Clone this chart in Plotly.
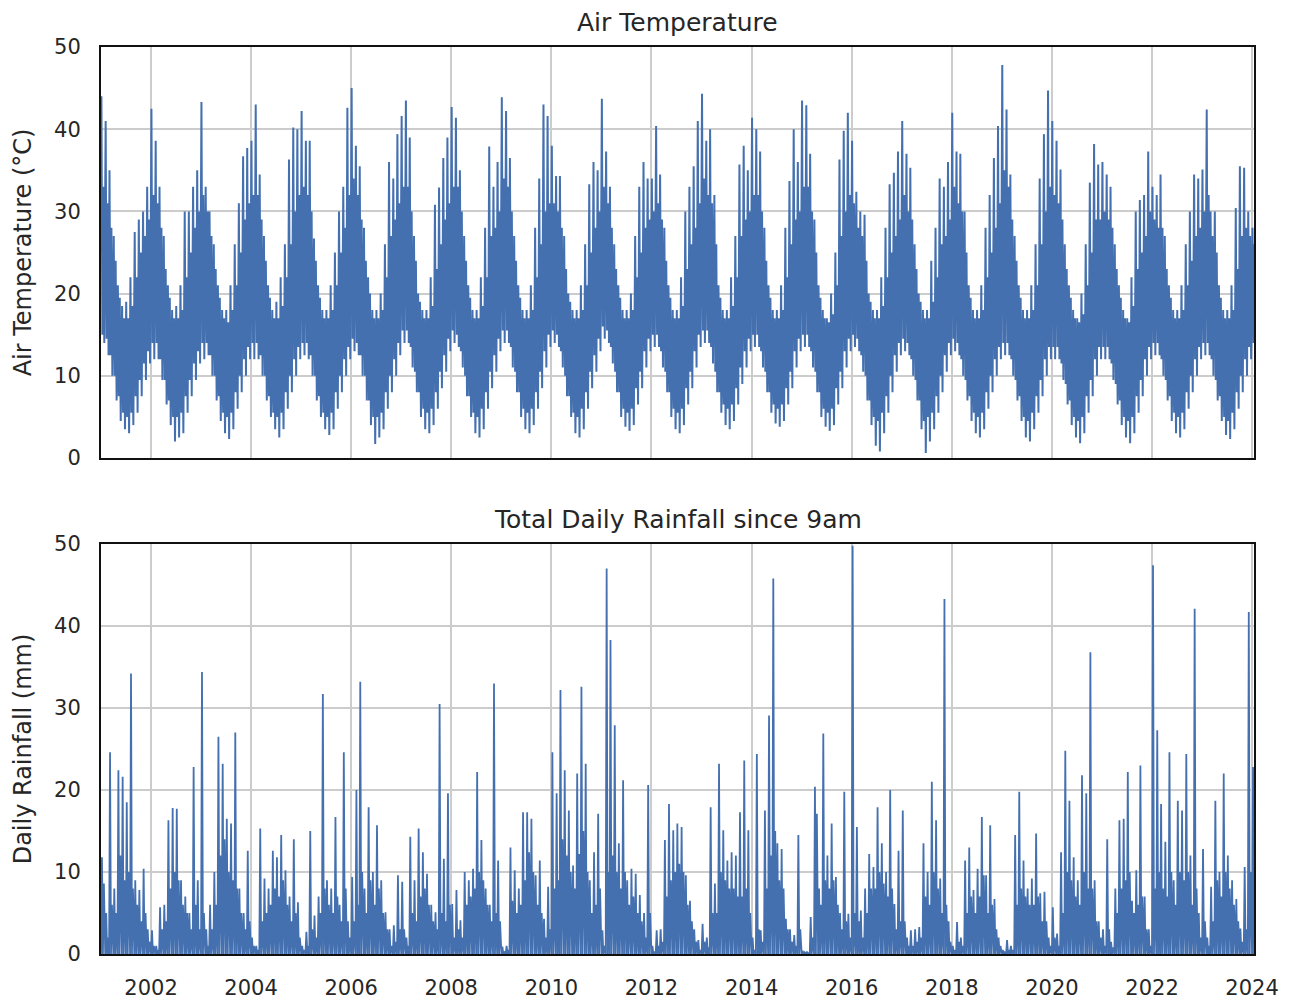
import pandas as pd
import plotly.graph_objects as go

# ---------------- data ----------------
# Monthly highest air temperature (deg C), Jan 2001 ... Jan 2024
temp_max_c = [
    44.0, 41.0, 35.0, 27.0, 21.0, 18.5, 19.0, 22.0, 27.5, 29.0, 30.0, 33.0,   # 2001
    42.5, 38.6, 33.0, 27.0, 21.0, 18.0, 18.5, 21.0, 30.0, 30.0, 33.0, 35.0,   # 2002
    43.3, 33.0, 30.0, 26.0, 21.0, 18.0, 18.0, 21.0, 26.0, 31.0, 36.7, 37.7,   # 2003
    38.6, 43.0, 34.5, 27.0, 21.0, 18.0, 19.0, 22.0, 26.0, 36.3, 40.2, 40.0,   # 2004
    42.2, 38.6, 38.6, 26.7, 21.0, 18.0, 18.0, 21.0, 25.0, 30.0, 33.0, 42.6,   # 2005
    45.0, 38.0, 35.5, 28.0, 22.0, 18.0, 18.0, 20.0, 26.0, 36.0, 34.0, 39.4,   # 2006
    41.6, 43.5, 39.0, 27.0, 20.0, 18.0, 18.0, 22.0, 30.8, 32.9, 36.5, 39.0,   # 2007
    42.7, 41.4, 35.0, 27.0, 21.0, 18.0, 18.0, 22.0, 28.0, 37.9, 33.0, 36.0,   # 2008
    43.9, 42.2, 36.5, 27.0, 21.0, 18.0, 18.0, 21.0, 28.0, 34.0, 43.0, 41.6,   # 2009
    38.0, 34.3, 34.3, 27.0, 20.0, 18.0, 18.0, 21.0, 26.0, 33.3, 36.0, 35.0,   # 2010
    43.7, 37.3, 33.0, 26.0, 21.0, 18.0, 18.0, 20.0, 27.0, 33.0, 36.0, 34.0,   # 2011
    34.0, 40.4, 34.5, 28.0, 21.0, 18.0, 18.0, 22.0, 30.0, 33.0, 35.5, 41.0,   # 2012
    44.3, 38.6, 40.0, 32.0, 21.0, 18.0, 18.0, 22.0, 27.0, 35.7, 38.0, 35.0,   # 2013
    41.4, 40.0, 37.3, 28.0, 21.0, 18.0, 18.0, 21.0, 28.0, 33.7, 40.0, 36.0,   # 2014
    43.5, 42.9, 37.0, 29.0, 21.0, 18.0, 17.0, 20.0, 25.0, 36.3, 39.8, 42.0,   # 2015
    38.6, 32.4, 30.0, 29.6, 20.0, 18.0, 18.0, 22.0, 28.0, 33.3, 34.7, 37.3,   # 2016
    41.0, 37.0, 35.3, 26.0, 20.0, 18.0, 18.0, 24.0, 28.0, 34.0, 33.0, 36.0,   # 2017
    42.0, 37.3, 37.0, 30.0, 21.0, 18.0, 18.0, 21.0, 28.0, 32.0, 36.5, 40.4,   # 2018
    47.8, 42.4, 34.5, 27.0, 21.0, 18.0, 18.0, 21.0, 26.0, 34.0, 39.4, 44.7,   # 2019
    41.0, 38.6, 35.1, 26.0, 21.0, 18.0, 17.0, 20.0, 26.0, 33.5, 38.2, 35.7,   # 2020
    36.0, 34.5, 33.0, 26.0, 21.0, 18.0, 17.0, 22.0, 30.0, 31.4, 32.0, 37.3,   # 2021
    33.0, 32.0, 34.5, 27.0, 21.0, 18.0, 18.0, 21.0, 26.0, 30.0, 34.5, 34.0,   # 2022
    35.1, 42.4, 30.0, 30.0, 21.0, 18.0, 18.0, 21.0, 30.4, 35.5, 35.3, 30.0,   # 2023
    28.0,                                                                    # 2024
]

# Typical daily high of each month (top of the solid band), deg C
temp_high_typ_c = [
    33, 31, 28, 24, 19.5, 17, 17, 18.5, 22, 25, 27, 29,      # 2001
    32, 31, 28, 23, 19.5, 17, 17, 18, 22, 25, 28, 30,        # 2002
    32, 30, 27, 23, 19.5, 17, 16.5, 18, 21, 25, 29, 31,      # 2003
    32, 32, 29, 24, 19.5, 17, 17, 18.5, 22, 26, 30, 32,      # 2004
    33, 32, 30, 24, 19.5, 17, 17, 18, 21, 25, 28, 32,        # 2005
    34, 32, 29, 24, 20, 17, 17, 18, 22, 27, 29, 31,          # 2006
    33, 33, 30, 24, 19, 17, 17, 18.5, 23, 26, 29, 31,        # 2007
    33, 33, 30, 24, 19.5, 17, 17, 18.5, 22, 27, 28, 30,      # 2008
    34, 33, 30, 24, 19.5, 17, 17, 18, 22, 26, 30, 31,        # 2009
    31, 30, 28, 23, 19, 17, 17, 18, 21, 25, 28, 30,          # 2010
    33, 31, 28, 23, 19.5, 17, 17, 18, 22, 25, 28, 29,        # 2011
    30, 31, 29, 24, 19.5, 17, 17, 18.5, 23, 26, 28, 31,      # 2012
    34, 32, 31, 26, 19.5, 17, 17, 18.5, 22, 27, 29, 30,      # 2013
    32, 32, 30, 24, 19.5, 17, 17, 18, 22, 26, 29, 30,        # 2014
    33, 33, 30, 25, 19.5, 17, 16.5, 17.5, 21, 27, 30, 32,    # 2015
    31, 28, 27, 24, 19, 17, 17, 18.5, 22, 25, 27, 29,        # 2016
    32, 30, 29, 23, 19, 17, 17, 19, 22, 26, 27, 29,          # 2017
    33, 31, 30, 25, 19.5, 17, 17, 18, 22, 25, 28, 31,        # 2018
    35, 33, 29, 24, 19.5, 17, 17, 18, 21, 26, 30, 33,        # 2019
    32, 31, 29, 23, 19.5, 17, 16.5, 17.5, 21, 25, 29, 29,    # 2020
    30, 29, 28, 23, 19.5, 17, 16.5, 18.5, 23, 25, 27, 30,    # 2021
    29, 28, 28, 23, 19.5, 17, 17, 18, 21, 24, 27, 28,        # 2022
    30, 32, 27, 25, 19.5, 17, 17, 18, 23, 27, 28, 27,        # 2023
    26,                                                      # 2024
]

# Typical daily low of each month (bottom of the solid band), deg C
temp_low_typ_c = [
    15, 14.5, 12.5, 10, 7.5, 5.5, 5, 5.5, 7.5, 9.5, 11.5, 13,        # 2001
    14, 14, 12, 9.5, 7, 5, 5, 5.5, 7.5, 9.5, 11.5, 13,               # 2002
    14, 14, 12.5, 10, 7.5, 5.5, 5, 5.5, 8, 10, 12, 13.5,             # 2003
    14, 14, 12.5, 10, 7.5, 5.5, 5, 5.5, 8, 10, 12, 13.5,             # 2004
    14, 14, 12.5, 10, 7.5, 5.5, 5, 5.5, 8, 10, 12, 13.5,             # 2005
    14.5, 14, 12.5, 10, 7, 5, 5, 5.5, 8, 10, 12, 14,                 # 2006
    15.5, 15.5, 13.5, 10.5, 8, 6, 5.5, 6, 8, 10.5, 12.5, 14.5,       # 2007
    15.5, 15, 13, 10, 7.5, 5.5, 5, 6, 8, 10.5, 12.5, 14.5,           # 2008
    15.5, 15.5, 13.5, 10.5, 8, 6, 5.5, 6, 8, 10.5, 13, 15,           # 2009
    15.5, 15, 13, 10, 7.5, 5.5, 5, 6, 8, 10.5, 12.5, 14.5,           # 2010
    16, 15.5, 13.5, 10.5, 8, 6, 5.5, 6, 8.5, 10.5, 13, 14.5,         # 2011
    15, 15, 13, 10.5, 8, 6, 5.5, 6, 8.5, 10.5, 13, 15,               # 2012
    15.5, 15.5, 13.5, 10.5, 8, 6.5, 6, 6.5, 8.5, 11, 13, 14.5,       # 2013
    15, 15, 13, 10.5, 8, 6.5, 6, 6.5, 8.5, 10.5, 13, 14.5,           # 2014
    15, 15, 13, 10.5, 8, 6, 5.5, 6, 8.5, 10.5, 13, 14.5,             # 2015
    15, 14.5, 12.5, 10, 7, 5, 4.5, 5.5, 7.5, 10, 12.5, 14,           # 2016
    14.5, 14, 12, 9.5, 7, 4.5, 5, 5.5, 7.5, 10, 12.5, 14,            # 2017
    14.5, 14, 12, 9.5, 7.5, 5.5, 5, 5.5, 8, 10, 12, 13.5,            # 2018
    14, 14, 12, 9.5, 7.5, 5, 4.5, 5.5, 7.5, 9.5, 12, 13.5,           # 2019
    13.5, 13.5, 11.5, 9, 7, 5, 4.5, 5, 7.5, 9.5, 12, 13.5,           # 2020
    13.5, 13.5, 11.5, 9, 7, 5, 4.5, 5, 7.5, 9.5, 12, 13.5,           # 2021
    14, 14, 12, 9.5, 7.5, 5.5, 5, 5.5, 8, 10, 12, 13.5,              # 2022
    14, 14, 12, 9.5, 7.5, 5, 4.5, 5.5, 8, 10, 12, 13.5,              # 2023
    14,                                                              # 2024
]

# Monthly lowest air temperature (deg C), Jan 2001 ... Jan 2024
temp_min_c = [
    14.0, 12.5, 10.0, 7.0, 4.5, 3.5, 3.0, 4.0, 5.5, 7.5, 9.5, 11.5,    # 2001
    12.0, 12.0, 9.5, 6.5, 4.0, 2.0, 2.5, 3.0, 5.5, 7.5, 9.5, 11.5,     # 2002
    12.0, 12.5, 10.0, 7.0, 4.5, 3.0, 2.3, 3.5, 6.0, 8.0, 10.0, 12.0,   # 2003
    12.0, 12.0, 10.0, 7.0, 5.0, 3.5, 2.5, 3.5, 6.0, 8.0, 10.0, 12.0,   # 2004
    12.5, 12.0, 10.0, 7.0, 5.0, 3.5, 2.8, 3.5, 6.0, 8.0, 10.0, 12.0,   # 2005
    13.0, 12.5, 10.0, 7.0, 4.0, 1.7, 2.5, 3.5, 6.0, 8.0, 10.0, 12.5,   # 2006
    14.0, 14.0, 11.0, 8.0, 5.0, 3.5, 3.0, 4.0, 6.0, 8.5, 10.5, 13.0,   # 2007
    14.0, 13.5, 11.0, 7.5, 5.0, 3.0, 2.5, 3.5, 6.0, 8.5, 10.5, 13.0,   # 2008
    14.0, 14.0, 11.0, 8.0, 5.0, 3.5, 3.0, 4.0, 6.0, 8.5, 11.0, 13.5,   # 2009
    14.0, 13.5, 11.0, 7.5, 5.0, 3.0, 2.5, 3.5, 6.0, 8.5, 10.5, 13.0,   # 2010
    14.5, 14.0, 11.5, 8.0, 5.0, 3.8, 3.3, 4.0, 6.5, 8.5, 11.0, 13.0,   # 2011
    13.5, 13.5, 11.0, 8.0, 5.0, 3.5, 3.0, 4.0, 6.5, 8.5, 11.0, 13.5,   # 2012
    14.0, 14.0, 11.5, 8.0, 5.5, 4.0, 3.5, 4.5, 6.5, 9.0, 11.0, 13.0,   # 2013
    13.5, 13.5, 11.0, 8.0, 5.5, 4.2, 3.8, 4.5, 6.5, 8.5, 11.0, 13.0,   # 2014
    13.5, 13.5, 11.0, 8.0, 5.0, 3.8, 3.3, 4.0, 6.5, 8.5, 11.0, 13.0,   # 2015
    13.5, 13.0, 10.5, 7.0, 4.0, 1.5, 0.8, 3.0, 5.5, 8.0, 10.5, 12.5,   # 2016
    13.0, 12.5, 10.0, 7.0, 3.5, 0.6, 2.0, 3.5, 5.5, 8.0, 10.5, 12.5,   # 2017
    13.0, 12.5, 10.0, 7.0, 4.5, 3.0, 2.5, 3.5, 6.0, 8.0, 10.0, 12.0,   # 2018
    12.5, 12.5, 10.0, 7.0, 4.5, 2.5, 2.0, 3.5, 5.5, 7.5, 10.0, 12.0,   # 2019
    12.0, 12.0, 9.5, 6.5, 4.0, 2.5, 1.8, 3.0, 5.5, 7.5, 10.0, 12.0,    # 2020
    12.0, 12.0, 9.5, 6.5, 4.0, 2.5, 1.8, 3.0, 5.5, 7.5, 10.0, 12.0,    # 2021
    12.5, 12.5, 10.0, 7.0, 4.5, 3.0, 2.5, 3.5, 6.0, 8.0, 10.0, 12.0,   # 2022
    12.5, 12.5, 10.0, 7.0, 4.5, 2.8, 2.3, 3.5, 6.0, 8.0, 10.0, 12.0,   # 2023
    12.5,                                                               # 2024
]

# Largest daily rainfall of each month (mm)
rain_peak_mm = [
    11.8, 5.0, 24.6, 8.0, 22.4, 21.6, 18.5, 34.2, 9.0, 7.8, 10.4, 3.0,      # 2001
    2.9, 1.0, 5.7, 6.0, 16.3, 17.8, 17.7, 9.0, 7.0, 5.0, 22.8, 9.0,         # 2002
    34.4, 3.0, 6.0, 10.0, 26.5, 23.2, 16.5, 15.9, 27.0, 8.0, 5.0, 12.6,     # 2003
    2.0, 1.0, 15.3, 9.2, 8.0, 12.6, 11.8, 14.5, 10.2, 7.0, 14.0, 6.3,       # 2004
    1.0, 2.7, 15.0, 4.7, 7.0, 31.7, 9.0, 8.0, 16.7, 6.0, 24.6, 4.0,         # 2005
    9.4, 20.0, 33.2, 8.0, 17.9, 10.0, 15.7, 9.0, 5.1, 3.0, 3.5, 9.6,        # 2006
    8.8, 2.0, 14.3, 9.0, 15.3, 12.4, 9.8, 6.0, 5.1, 30.5, 11.6, 19.6,       # 2007
    6.1, 7.8, 4.1, 10.0, 9.0, 10.4, 22.2, 13.9, 8.0, 6.0, 33.0, 11.4,       # 2008
    0.9, 1.0, 13.0, 10.2, 8.0, 17.3, 17.3, 16.5, 9.6, 11.4, 4.3, 8.2,       # 2009
    24.6, 19.6, 32.2, 22.4, 17.5, 10.8, 22.0, 32.6, 23.2, 9.0, 12.4, 17.1,  # 2010
    2.9, 47.0, 38.3, 27.9, 13.5, 21.2, 9.0, 10.4, 9.8, 7.2, 5.0, 20.6,      # 2011
    1.0, 2.9, 3.0, 13.9, 18.3, 15.1, 15.9, 15.5, 9.6, 6.5, 3.0, 1.7,        # 2012
    3.7, 2.0, 17.9, 8.6, 23.2, 15.1, 11.4, 12.4, 12.0, 17.3, 23.6, 15.1,    # 2013
    2.0, 24.4, 2.9, 17.5, 29.1, 45.8, 13.5, 12.8, 4.3, 3.0, 2.3, 14.5,      # 2014
    0.4, 0.3, 4.5, 20.4, 8.0, 26.9, 12.0, 15.9, 9.4, 5.0, 19.8, 4.9,        # 2015
    49.8, 15.5, 5.3, 8.0, 12.2, 10.6, 17.9, 13.5, 10.0, 20.0, 6.1, 12.6,    # 2016
    17.5, 2.0, 2.9, 3.0, 3.3, 13.5, 10.0, 21.0, 16.3, 9.2, 43.3, 4.0,       # 2017
    1.0, 3.9, 2.0, 11.4, 13.0, 7.8, 10.4, 16.7, 9.6, 15.7, 6.7, 2.0,        # 2018
    0.5, 1.7, 1.0, 14.5, 19.8, 11.4, 8.0, 9.2, 14.7, 7.4, 7.6, 2.0,         # 2019
    5.7, 2.5, 12.4, 24.8, 18.7, 11.8, 9.0, 21.8, 19.6, 36.8, 9.0, 4.0,      # 2020
    3.0, 14.0, 1.5, 8.0, 16.3, 16.5, 22.2, 6.5, 10.2, 23.0, 7.0, 3.0,       # 2021
    47.4, 27.3, 18.3, 13.7, 24.6, 9.0, 18.7, 17.5, 24.4, 12.0, 42.1, 5.0,   # 2022
    12.8, 2.0, 8.2, 18.7, 10.0, 22.0, 12.0, 9.0, 6.7, 3.1, 10.6, 41.7,      # 2023
    22.8,                                                                  # 2024
]

# A second, smaller rain day in each month (mm)
rain_second_mm = [
    8.6, 2.0, 6.0, 5.0, 12.0, 9.0, 10.0, 8.0, 6.0, 4.0, 5.0, 1.5,     # 2001
    1.0, 0.5, 3.0, 4.0, 8.0, 10.0, 9.0, 6.0, 5.0, 3.0, 6.0, 3.0,      # 2002
    5.0, 1.0, 3.0, 6.0, 12.0, 14.0, 10.0, 9.0, 8.0, 5.0, 3.0, 4.0,    # 2003
    1.0, 0.5, 4.0, 5.0, 6.0, 8.0, 7.0, 9.0, 6.0, 4.0, 5.0, 2.0,       # 2004
    0.5, 1.0, 3.0, 2.0, 5.0, 8.0, 6.0, 5.0, 7.0, 4.0, 8.0, 2.0,       # 2005
    4.0, 6.0, 10.0, 5.0, 9.0, 6.0, 8.0, 5.0, 3.0, 1.0, 1.5, 3.0,      # 2006
    3.0, 1.0, 5.0, 4.0, 7.0, 8.0, 6.0, 4.0, 3.0, 5.0, 4.0, 6.0,       # 2007
    2.0, 3.0, 2.0, 6.0, 7.0, 8.0, 10.0, 9.0, 6.0, 4.0, 5.0, 4.0,      # 2008
    0.3, 0.5, 6.5, 5.0, 6.0, 9.0, 12.4, 10.0, 6.0, 5.0, 2.0, 3.0,     # 2009
    8.0, 9.0, 14.0, 12.0, 10.0, 8.0, 12.2, 15.0, 10.0, 5.0, 6.0, 8.0, # 2010
    1.0, 10.0, 12.0, 10.0, 8.0, 10.0, 6.0, 7.0, 5.0, 4.0, 2.0, 5.0,   # 2011
    0.3, 1.0, 1.5, 7.0, 9.0, 10.0, 11.0, 10.0, 6.0, 4.0, 1.5, 0.5,    # 2012
    1.5, 0.8, 5.0, 5.0, 10.0, 9.0, 8.0, 8.0, 7.0, 7.0, 8.0, 5.0,      # 2013
    0.5, 3.0, 1.5, 8.0, 12.0, 15.0, 9.0, 8.0, 3.0, 1.5, 1.0, 3.0,     # 2014
    0.2, 0.1, 2.0, 17.1, 6.0, 9.0, 8.0, 9.0, 6.0, 3.0, 4.0, 2.0,      # 2015
    5.0, 4.0, 2.0, 5.0, 8.0, 8.0, 10.0, 8.6, 7.0, 8.0, 3.0, 4.0,      # 2016
    4.0, 1.0, 1.0, 1.5, 2.0, 7.0, 6.0, 10.0, 8.0, 5.0, 6.0, 1.5,      # 2017
    0.5, 1.5, 1.0, 5.0, 7.0, 5.0, 7.0, 9.6, 5.0, 6.0, 3.0, 1.0,       # 2018
    0.2, 0.5, 0.5, 6.0, 8.0, 7.0, 6.0, 6.0, 7.0, 4.0, 4.0, 1.0,       # 2019
    2.0, 1.0, 5.0, 10.0, 9.0, 7.0, 6.0, 10.0, 8.0, 8.0, 4.0, 2.0,     # 2020
    1.0, 3.0, 0.8, 5.0, 8.0, 9.0, 10.0, 5.0, 6.0, 7.0, 3.0, 1.0,      # 2021
    8.0, 10.0, 8.0, 7.0, 10.0, 6.0, 10.0, 9.0, 10.0, 6.0, 8.0, 2.0,   # 2022
    4.0, 1.0, 4.0, 9.0, 7.0, 10.0, 8.0, 6.0, 4.0, 1.5, 3.0, 10.0,     # 2023
    5.0,                                                             # 2024
]

x_tick_years = [str(y) for y in range(2002, 2025, 2)]
y_ticks = [0, 10, 20, 30, 40, 50]

# ---------------- build series ----------------
months = pd.date_range("2001-01-01", periods=len(temp_max_c), freq="MS")
D = pd.Timedelta

t_x, t_y = [], []
for m, hi, lo_t, hi_t, lo in zip(months, temp_max_c, temp_low_typ_c, temp_high_typ_c, temp_min_c):
    t_x += [m + D(days=3), m + D(days=10), m + D(days=17), m + D(days=24)]
    t_y += [hi, lo_t, hi_t, lo]

r_x, r_y = [], []
for m, a, b in zip(months, rain_peak_mm, rain_second_mm):
    r_x += [m, m + D(days=7), m + D(days=14), m + D(days=21)]
    r_y += [0.0, a, 0.0, b]

BLUE = "#4470b0"
TXT = "#262626"
FONT = "DejaVu Sans"

fig = go.Figure()
fig.add_trace(go.Scatter(x=t_x, y=t_y, mode="lines", line=dict(color=BLUE, width=2.0),
                         xaxis="x", yaxis="y", showlegend=False))
fig.add_trace(go.Scatter(x=r_x, y=r_y, mode="lines", line=dict(color=BLUE, width=1.8),
                         xaxis="x2", yaxis="y2", showlegend=False))

x_range = ["2001-01-01", "2024-01-15"]
common_x = dict(range=x_range, tickvals=[f"{y}-01-01" for y in x_tick_years], ticktext=x_tick_years,
                showgrid=True, gridcolor="#cccccc", gridwidth=1.5,
                showline=True, mirror=True, linecolor="#111111", linewidth=2,
                ticks="", zeroline=False,
                tickfont=dict(family=FONT, size=21, color=TXT))
common_y = dict(range=[0, 50], tickvals=y_ticks,
                showgrid=True, gridcolor="#cccccc", gridwidth=1.5,
                showline=True, mirror=True, linecolor="#111111", linewidth=2,
                ticks="", zeroline=False, ticklabelstandoff=14,
                tickfont=dict(family=FONT, size=21, color=TXT))

fig.update_layout(
    width=1294, height=1000,
    margin=dict(l=101, r=40, t=47, b=46, autoexpand=False),
    paper_bgcolor="white", plot_bgcolor="white",
    font=dict(family=FONT, color=TXT),
    xaxis=dict(**common_x, domain=[0, 1], anchor="y", showticklabels=False),
    yaxis=dict(**common_y, domain=[0.54686, 1], anchor="x",
               title=dict(text="Air Temperature (°C)", font=dict(family=FONT, size=24, color=TXT), standoff=16)),
    xaxis2=dict(**common_x, domain=[0, 1], anchor="y2", matches="x", ticklabelstandoff=14),
    yaxis2=dict(**common_y, domain=[0, 0.45204], anchor="x2",
                title=dict(text="Daily Rainfall (mm)", font=dict(family=FONT, size=24, color=TXT), standoff=16)),
    annotations=[
        dict(text="Air Temperature", x=0.5, y=1, xref="paper", yref="paper",
             xanchor="center", yanchor="bottom", yshift=8, showarrow=False,
             font=dict(family=FONT, size=25, color=TXT)),
        dict(text="Total Daily Rainfall since 9am", x=0.5, y=0.45204, xref="paper", yref="paper",
             xanchor="center", yanchor="bottom", yshift=8, showarrow=False,
             font=dict(family=FONT, size=25, color=TXT)),
    ],
)

fig.write_html("out.html")
